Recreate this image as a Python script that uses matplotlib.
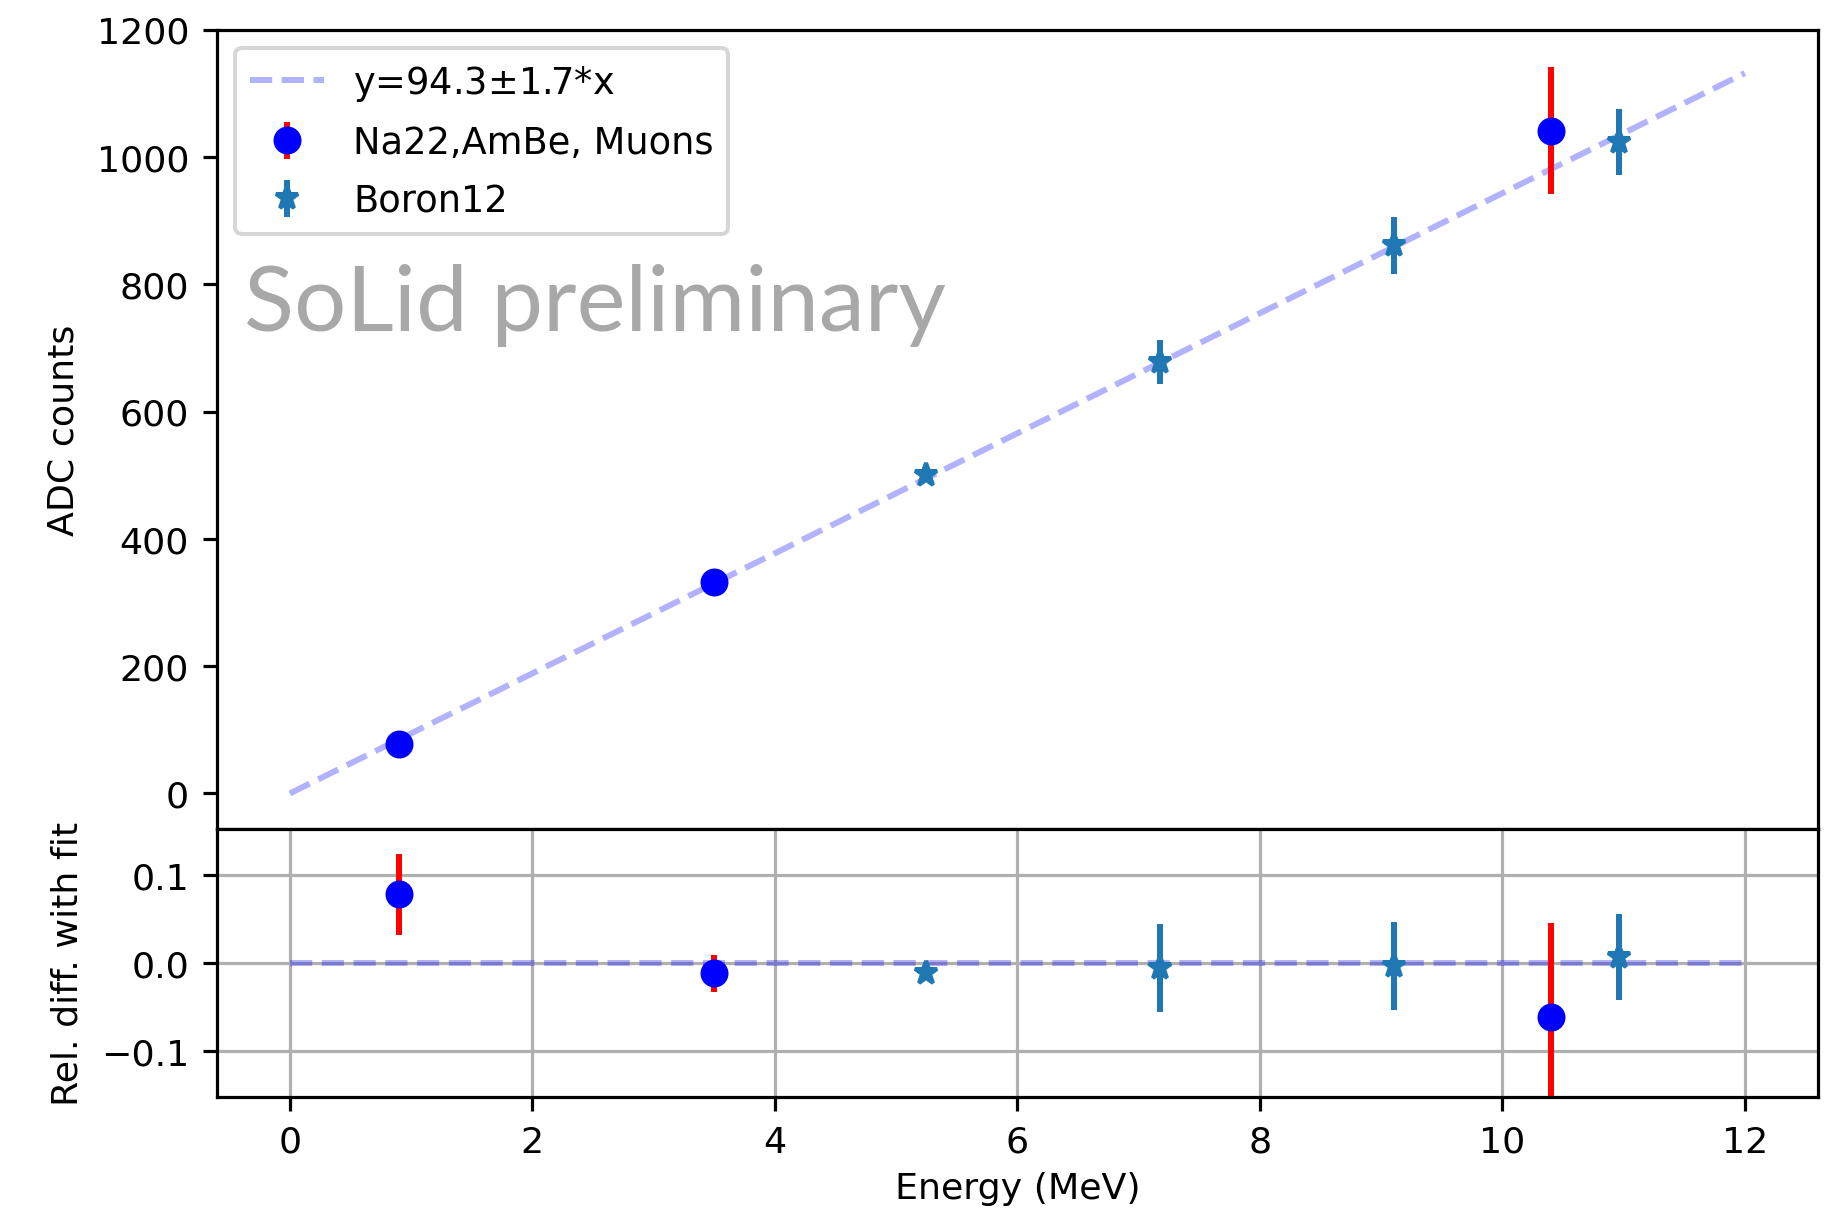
import numpy as np
import matplotlib
matplotlib.use("Agg")
import matplotlib.pyplot as plt

plt.rcParams['font.size'] = 9.1

# fit slope (ADC counts per MeV)
slope = 94.3
slope_err = 1.7

# Na22, AmBe, muon calibration points
src_e = [0.9, 3.5, 10.4]
src_adc = [77.4, 331.8, 1041.0]
src_adc_err = [3.5, 7.0, 100.0]
src_rel = [0.078, -0.012, -0.061]
src_rel_err = [0.046, 0.021, 0.106]

# Boron12 points
b12_e = [5.25, 7.18, 9.11, 10.96]
b12_adc = [501.0, 678.0, 861.0, 1023.0]
b12_adc_err = [6.0, 35.0, 45.0, 52.0]
b12_rel = [-0.012, -0.006, -0.003, 0.007]
b12_rel_err = [0.004, 0.050, 0.050, 0.049]

fit_x = np.array([0.0, 12.0])

fig = plt.figure(figsize=(6.4, 4.206), dpi=287.66)
ax = fig.add_axes([0.1179, 0.314, 0.8694, 0.6608])
axr = fig.add_axes([0.1179, 0.0928, 0.8694, 0.2212], sharex=ax)

ax.plot(fit_x, slope * fit_x, '--', color='b', alpha=0.3,
        label="y={:.1f}$\\pm${:.1f}*x".format(slope, slope_err))
ax.errorbar(src_e, src_adc, yerr=src_adc_err, fmt='bo', ecolor='r',
            label="Na22,AmBe, Muons")
ax.errorbar(b12_e, b12_adc, yerr=b12_adc_err, fmt='*', label="Boron12")
ax.set_ylabel("ADC counts")
ax.set_ylim(-56, 1200)
ax.set_xlim(-0.6, 12.6)
ax.tick_params(axis='x', bottom=False, labelbottom=False)
ax.legend(loc='upper left', fontsize=9.2, labelspacing=0.58)

axr.plot(fit_x, 0 * fit_x, '--', color='b', alpha=0.3)
axr.errorbar(src_e, src_rel, yerr=src_rel_err, fmt='bo', ecolor='r')
axr.errorbar(b12_e, b12_rel, yerr=b12_rel_err, fmt='*')
axr.set_ylim(-0.152, 0.152)
axr.set_yticks([-0.1, 0.0, 0.1])
axr.set_ylabel("Rel. diff. with fit")
axr.set_xlabel("Energy (MeV)", labelpad=3)
axr.grid(True)

fig.text(0.1327, 0.7265, "SoLid preliminary", fontsize=23.1, color='#a8a8a8',
         family=['Lato', 'DejaVu Sans'])

fig.savefig("out.png", dpi=287.66)
